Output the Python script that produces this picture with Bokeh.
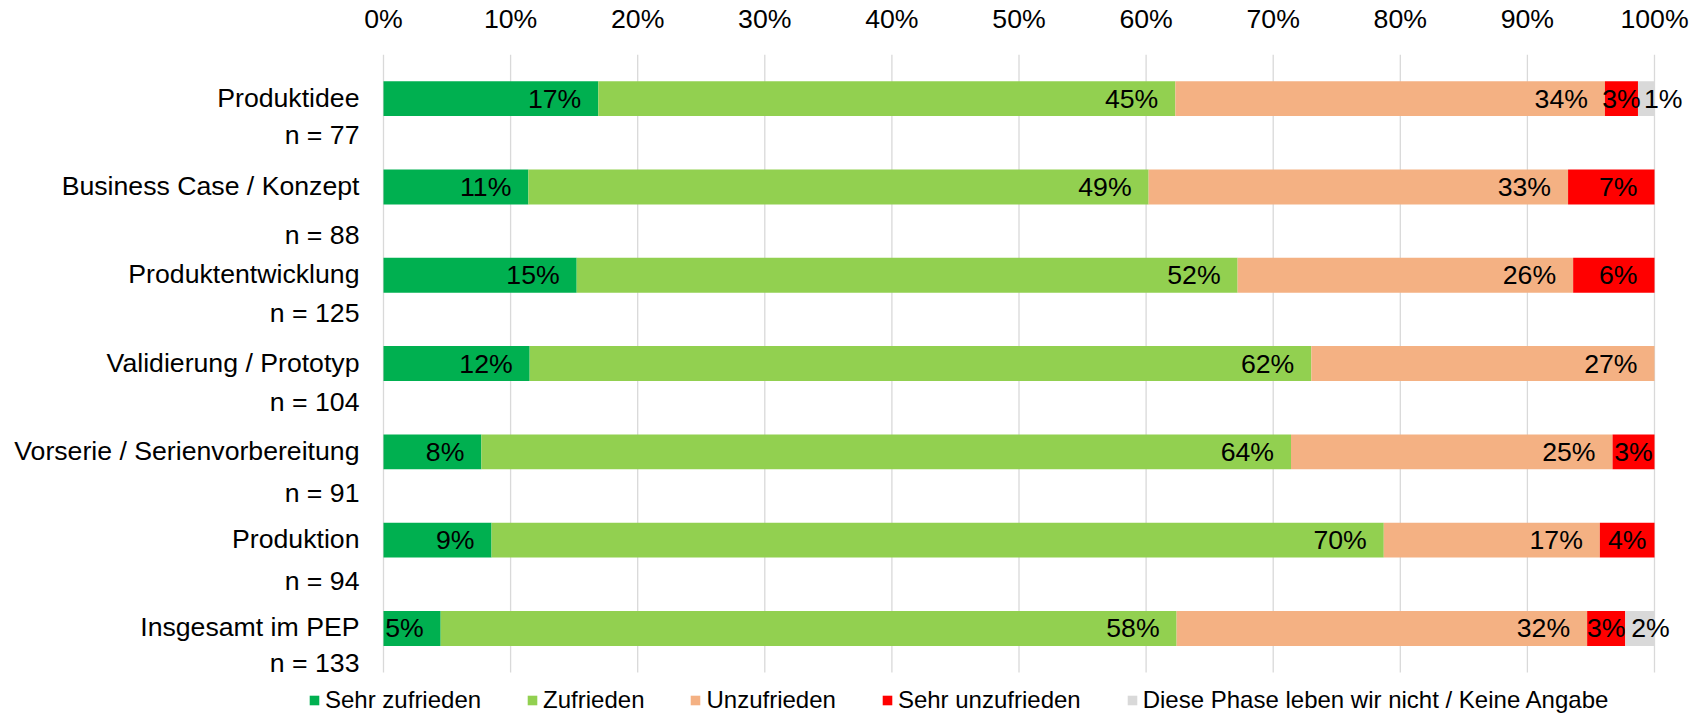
from bokeh.plotting import figure
from bokeh.models import ColumnDataSource, Range1d, FixedTicker, LabelSet
from bokeh.core.properties import value
from bokeh.embed import file_html
from bokeh.resources import INLINE

# ---------------- data ----------------
categories = ["Produktidee", "Business Case / Konzept", "Produktentwicklung",
              "Validierung / Prototyp", "Vorserie / Serienvorbereitung",
              "Produktion", "Insgesamt im PEP"]
sample_sizes = ["n = 77", "n = 88", "n = 125", "n = 104", "n = 91", "n = 94", "n = 133"]
series_names = ["Sehr zufrieden", "Zufrieden", "Unzufrieden", "Sehr unzufrieden",
                "Diese Phase leben wir nicht / Keine Angabe"]
sehr_zufrieden = [16.9, 11.4, 15.2, 11.5, 7.7, 8.5, 4.5]
zufrieden = [45.4, 48.8, 52.0, 61.5, 63.7, 70.2, 57.9]
unzufrieden = [33.8, 33.0, 26.4, 27.0, 25.3, 17.0, 32.3]
sehr_unzufrieden = [2.6, 6.8, 6.4, 0.0, 3.3, 4.3, 3.0]
keine_angabe = [1.3, 0.0, 0.0, 0.0, 0.0, 0.0, 2.3]
tick_values = [0, 10, 20, 30, 40, 50, 60, 70, 80, 90, 100]
tick_labels = ["0%", "10%", "20%", "30%", "40%", "50%", "60%", "70%", "80%", "90%", "100%"]

# ---------------- style / layout ----------------
colors = ["#00B050", "#92D050", "#F4B183", "#FF0000", "#D9D9D9"]
FONT = "Liberation Sans"
FS = 26.67
W, H = 1706, 714
TOP = 54                 # space for the top axis
PLOT_X0 = 383            # pixel position of 0 %
PLOT_W = 1271            # pixels from 0 % to 100 %
BAND = 88.3              # pixels per category band
px_per_pct = PLOT_W / 100.0
n_offsets = [37, 49, 39, 39, 42, 42, 36]   # px below the category label
PAD = 17

ncat = len(categories)
ypos = [ncat - 1 - i for i in range(ncat)]
bottom_extra = (H - TOP - ncat * BAND) / BAND

keys = ["s0", "s1", "s2", "s3", "s4"]
series = [sehr_zufrieden, zufrieden, unzufrieden, sehr_unzufrieden, keine_angabe]
src = ColumnDataSource(dict(y=ypos, **{k: v for k, v in zip(keys, series)}))

x_start = -PLOT_X0 / px_per_pct
x_end = (W - PLOT_X0) / px_per_pct
p = figure(width=W, height=H, output_backend="svg", toolbar_location=None,
           x_range=Range1d(x_start, x_end),
           y_range=Range1d(-0.5 - bottom_extra, ncat - 0.5),
           x_axis_location="above", y_axis_location=None,
           min_border_left=0, min_border_right=0,
           min_border_top=TOP, min_border_bottom=0)
p.outline_line_color = None
p.background_fill_color = "white"
p.border_fill_color = "white"
p.xgrid.visible = False
p.ygrid.visible = False

# vertical gridlines only across the category area
p.segment(x0=tick_values, x1=tick_values,
          y0=[-0.5] * len(tick_values), y1=[ncat - 0.5] * len(tick_values),
          line_color="#D9D9D9", line_width=1.3)

p.hbar_stack(keys, y="y", height=0.395, color=colors, line_color=None,
             source=src, legend_label=series_names)

ax = p.xaxis[0]
ax.ticker = FixedTicker(ticks=tick_values)
ax.major_label_overrides = {v: t for v, t in zip(tick_values, tick_labels)}
ax.major_label_text_font = FONT
ax.major_label_text_font_size = f"{FS}px"
ax.major_label_text_color = "black"
ax.axis_line_color = None
ax.major_tick_line_color = None
ax.minor_tick_line_color = None
ax.major_tick_out = 0
ax.major_label_standoff = 21

# ---------------- data labels ----------------
def text_w(s):
    return sum(0.889 if ch == "%" else 0.556 for ch in s) * FS

groups = {"right": dict(x=[], y=[], t=[]), "center": dict(x=[], y=[], t=[]),
          "left": dict(x=[], y=[], t=[])}
for i in range(ncat):
    start = 0.0
    for j, vals in enumerate(series):
        v = vals[i]
        if v <= 0:
            continue
        end = start + v
        lab = f"{int(v + 0.5)}%"
        seg_px = v * px_per_pct
        if seg_px - PAD >= text_w(lab):
            g = groups["right"]; g["x"].append(end)
        elif j == 4:
            g = groups["left"]; g["x"].append(start)
        else:
            g = groups["center"]; g["x"].append((start + end) / 2)
        g["y"].append(ypos[i]); g["t"].append(lab)
        start = end

for name, align, xo in [("right", "right", -PAD), ("center", "center", 0), ("left", "left", 6)]:
    g = groups[name]
    s = ColumnDataSource(dict(x=g["x"], y=g["y"], t=g["t"]))
    p.add_layout(LabelSet(x="x", y="y", text="t", source=s, x_offset=xo,
                          text_align=align, text_baseline="middle",
                          text_font=value(FONT), text_font_size=f"{FS}px",
                          text_color="black"))

# ---------------- category labels ----------------
cat_src = ColumnDataSource(dict(x=[0] * ncat, y=ypos, t=categories))
p.add_layout(LabelSet(x="x", y="y", text="t", source=cat_src, x_offset=-24, y_offset=1,
                      text_align="right", text_baseline="middle",
                      text_font=value(FONT), text_font_size=f"{FS}px", text_color="black"))
n_src = ColumnDataSource(dict(x=[0] * ncat, y=ypos, t=sample_sizes,
                              yo=[1 - o for o in n_offsets]))
p.add_layout(LabelSet(x="x", y="y", text="t", source=n_src, x_offset=-24, y_offset="yo",
                      text_align="right", text_baseline="middle",
                      text_font=value(FONT), text_font_size=f"{FS}px", text_color="black"))

# ---------------- legend ----------------
lg = p.legend[0]
lg.orientation = "horizontal"
lg.location = (308, 0)
lg.glyph_width = 12
lg.glyph_height = 12
lg.label_standoff = 5
lg.spacing = 45
lg.padding = 0
lg.margin = 0
lg.border_line_color = None
lg.background_fill_alpha = 0
lg.label_text_font = FONT
lg.label_text_font_size = "24px"
lg.label_text_color = "black"

open("out.html", "w").write(file_html(p, INLINE))
